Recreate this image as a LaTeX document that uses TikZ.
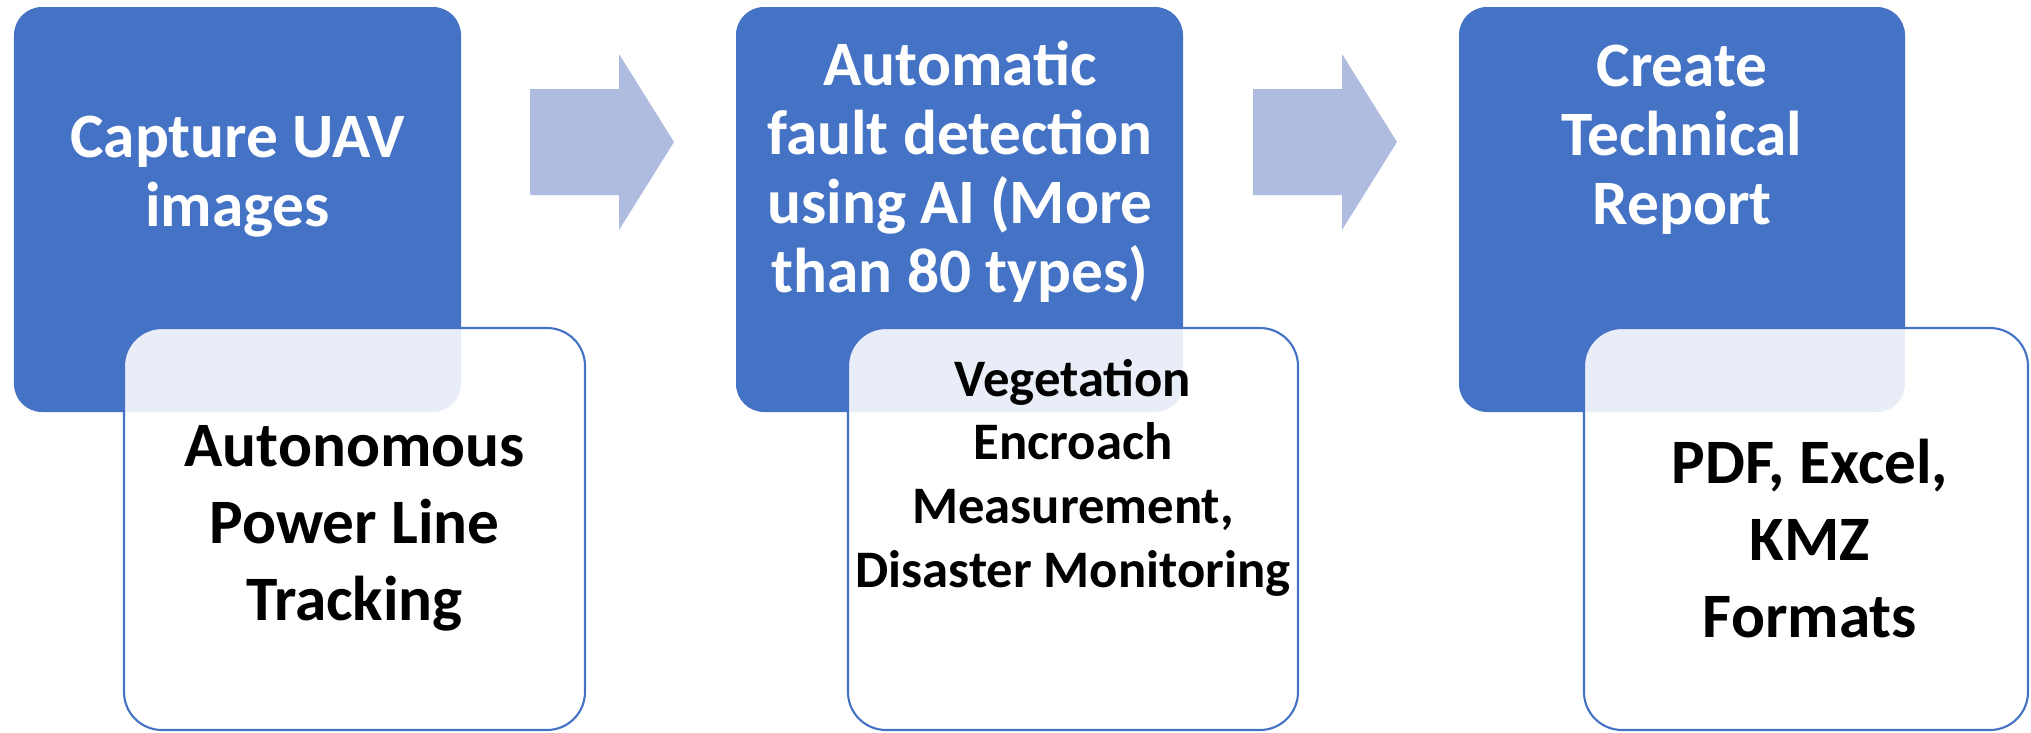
\documentclass[tikz,border=0pt]{standalone}
\usepackage{xcolor}
\usepackage{fontspec}
\setmainfont{Carlito}
\usetikzlibrary{positioning,calc}

\definecolor{stepblue}{HTML}{4472C4}
\definecolor{arrowblue}{HTML}{AFBBDF}

\tikzset{
    bluebox/.style={rectangle, fill=stepblue, rounded corners=0.28cm},
    whitebox/.style={rectangle, fill=white, fill opacity=0.88, draw=stepblue, line width=0.6pt, rounded corners=0.38cm},
    headtext/.style={text=white, align=center, anchor=base, inner sep=0pt, font=\bfseries\fontsize{18}{19.6}\selectfont},
    subtext/.style={text=black, align=center, anchor=base, inner sep=0pt, font=\bfseries\fontsize{18}{21.8}\selectfont}
}

\begin{document}
\begin{tikzpicture}
    \useasboundingbox (0,0) rectangle (20.31,7.32);

    % Block arrows
    \foreach \dx in {0,7.23}
        \fill[arrowblue, shift={(\dx,0)}] (5.30,6.43) -- (6.19,6.43) -- (6.19,6.78) -- (6.74,5.90)
            -- (6.19,5.02) -- (6.19,5.37) -- (5.30,5.37) -- cycle;

    % Blue boxes
    \node[bluebox, minimum width=4.47cm, minimum height=4.05cm] (capture) at (2.375,5.225) {};
    \node[bluebox, minimum width=4.47cm, minimum height=4.05cm] (detect) at (9.595,5.225) {};
    \node[bluebox, minimum width=4.46cm, minimum height=4.05cm] (report) at (16.82,5.225) {};

    % White boxes
    \node[whitebox, minimum width=4.61cm, minimum height=4.02cm] (tracking) at (3.545,2.03) {};
    \node[whitebox, minimum width=4.50cm, minimum height=4.02cm] (monitor) at (10.73,2.03) {};
    \node[whitebox, minimum width=4.44cm, minimum height=4.02cm] (formats) at (18.06,2.03) {};

    % Texts (base = last line)
    \node[headtext] (capturetxt) at (2.375,5.06) {Capture UAV\\images};
    \node[headtext] (detecttxt) at (9.6,4.40) {Automatic\\fault detection\\using AI (More\\than 80 types)};
    \node[headtext] (reporttxt) at (16.82,5.08) {Create\\Technical\\Report};

    \node[subtext] (trackingtxt) at (3.545,1.12) {Autonomous\\Power Line\\Tracking};
    \node[subtext, font=\bfseries\fontsize{15}{18.1}\selectfont] (monitortxt) at (10.73,1.45) {Vegetation\\Encroach\\Measurement,\\Disaster Monitoring};
    \node[subtext] (formatstxt) at (18.1,0.95) {PDF, Excel,\\KMZ\\Formats};
\end{tikzpicture}
\end{document}
